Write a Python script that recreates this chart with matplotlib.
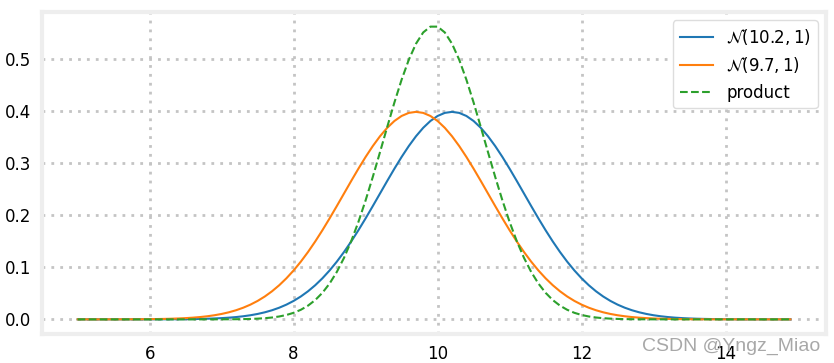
import matplotlib
matplotlib.use("Agg")
import matplotlib.pyplot as plt
import numpy as np

# distribution parameters
means = [10.2, 9.7]
sigmas = [1.0, 1.0]
labels = [r"$\mathcal{N}(10.2, 1)$", r"$\mathcal{N}(9.7, 1)$", "product"]
x_start, x_stop, x_step = 5.0, 15.0, 0.1
y_ticks = [0.0, 0.1, 0.2, 0.3, 0.4, 0.5]
x_ticks = [6, 8, 10, 12, 14]


def gaussian(x, mu, sigma):
    return np.exp(-0.5 * ((x - mu) / sigma) ** 2) / (sigma * np.sqrt(2 * np.pi))


def product_gaussian(mu1, s1, mu2, s2):
    var = 1.0 / (1.0 / s1**2 + 1.0 / s2**2)
    mu = var * (mu1 / s1**2 + mu2 / s2**2)
    return mu, np.sqrt(var)


xs = np.arange(x_start, x_stop, x_step)
mu_p, s_p = product_gaussian(means[0], sigmas[0], means[1], sigmas[1])

plt.rcParams["font.size"] = 12
fig = plt.figure(figsize=(8.34, 3.63), dpi=100)
ax = fig.add_axes([42 / 834, 1 - 334 / 363, (826 - 42) / 834, (334 - 12) / 363])

ax.plot(xs, gaussian(xs, means[0], sigmas[0]), color="#1f77b4", lw=1.5, label=labels[0])
ax.plot(xs, gaussian(xs, means[1], sigmas[1]), color="#ff7f0e", lw=1.5, label=labels[1])
ax.plot(xs, gaussian(xs, mu_p, s_p), color="#2ca02c", lw=1.5, ls="--", label=labels[2])

ax.set_xticks(x_ticks)
ax.set_yticks(y_ticks)
ax.tick_params(length=0, pad=8)
ax.grid(True, ls=(0, (1, 2.2)), color="#c4c4c4", lw=2)
ax.set_axisbelow(True)
for sp in ax.spines.values():
    sp.set_color("#eeeeee")
    sp.set_linewidth(3)

ax.legend(loc="upper right", framealpha=1, edgecolor="#dddddd", fontsize=12)

fig.text(0.983, 0.022, "CSDN @Yngz_Miao", color="#a8a8a8", fontsize=14, ha="right", va="bottom",
         family="Liberation Sans")

fig.savefig("out.png", dpi=100)
